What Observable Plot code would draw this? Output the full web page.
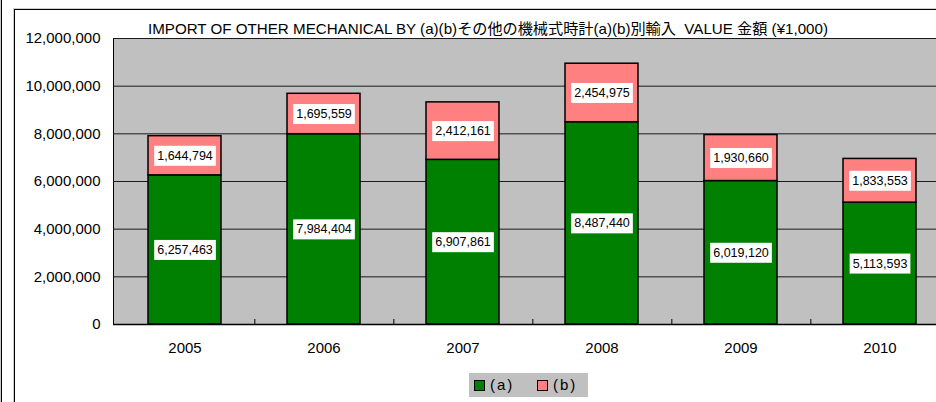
<!DOCTYPE html>
<html><head><meta charset="utf-8">
<script src="https://cdn.jsdelivr.net/npm/d3@7"></script>
<script src="https://cdn.jsdelivr.net/npm/@observablehq/plot@0.6"></script>
<style>
html,body{margin:0;padding:0;background:#fff;overflow:hidden;width:936px;height:402px;}
#wrap{position:relative;width:936px;height:402px;overflow:hidden;font-family:"Liberation Sans","Noto Sans CJK JP",sans-serif;color:#000;}
#edge{position:absolute;left:0;top:0;width:1px;height:402px;background:#c8c8c8;border-right:1px solid #000;}
#border{position:absolute;left:14px;top:9px;width:1000px;height:500px;border-left:1px solid #000;border-top:1px solid #000;box-shadow:-1px -1px 0 #d0d0d0;}
#chart{position:absolute;left:0;top:0;width:970px;height:402px;}
#chart svg{max-width:none !important;width:970px !important;height:402px !important;}
#title{position:absolute;left:148px;top:20px;font-size:15px;line-height:18px;white-space:pre;transform-origin:0 0;}
#legend{position:absolute;left:469px;top:373px;width:119px;height:24px;background:#c0c0c0;font-size:15px;}
.sw{position:absolute;top:7px;width:9px;height:9px;border:1px solid #000;}
.lt{position:absolute;top:3px;line-height:17px;letter-spacing:2px;}
</style></head><body>
<div id="wrap">
  <div id="edge"></div>
  <div id="border"></div>
  <div id="title"></div>
  <div id="chart"></div>
  <div id="legend"></div>
</div>
<script>
const titleText = "IMPORT OF OTHER MECHANICAL BY (a)(b)その他の機械式時計(a)(b)別輸入  VALUE 金額 (¥1,000)";
const years = ["2005", "2006", "2007", "2008", "2009", "2010"];
const seriesNames = ["(a)", "(b)"];
const seriesColors = ["#008000", "#ff8080"];
const valuesA = [6257463, 7984404, 6907861, 8487440, 6019120, 5113593];
const valuesB = [1644794, 1695559, 2412161, 2454975, 1930660, 1833553];
const yTicks = [0, 2000000, 4000000, 6000000, 8000000, 10000000, 12000000];

const tEl = document.getElementById("title");
tEl.textContent = titleText;
const tw = tEl.getBoundingClientRect().width;
tEl.style.transform = "scaleX(" + (680 / tw) + ")";

const data = [];
years.forEach((yr, i) => {
  data.push({year: yr, series: seriesNames[0], value: valuesA[i]});
  data.push({year: yr, series: seriesNames[1], value: valuesB[i]});
});

const W = 970, H = 402, mL = 113, mT = 38, mB = 78, mR = 19;
const step = (W - mL - mR) / years.length;
const tickLenData = 5 * 12000000 / (H - mT - mB);
const fmt = d3.format(",");

const plot = Plot.plot({
  width: W, height: H,
  marginLeft: mL, marginTop: mT, marginBottom: mB, marginRight: mR,
  style: {fontFamily: "Liberation Sans, Noto Sans CJK JP, sans-serif", fontSize: "15px", background: "transparent", color: "#000", maxWidth: "none"},
  x: {domain: years, paddingInner: 0.474, paddingOuter: 0.237, label: null},
  y: {domain: [0, 12000000], label: null},
  color: {domain: seriesNames, range: seriesColors},
  marks: [
    Plot.frame({fill: "#c0c0c0", stroke: "#000", strokeWidth: 1}),
    Plot.ruleY(yTicks, {stroke: "#1a1a1a", strokeWidth: 1}),
    Plot.ruleX(years, {x: d => d, dx: step / 2, y1: 0, y2: tickLenData, stroke: "#000", strokeWidth: 1}),
    Plot.barY(data, {x: "year", y: "value", fill: "series", stroke: "#000", strokeWidth: 1.5}),
    Plot.text(data, Plot.stackY({x: "year", y: "value", z: "series", text: d => fmt(d.value), fontSize: 12.5, fill: "#000", className: "vlabel"})),
    Plot.axisY({ticks: yTicks, tickFormat: fmt, tickSize: 0, tickPadding: 13, fontSize: 15}),
    Plot.axisX({tickSize: 0, tickPadding: 18, fontSize: 15}),
    Plot.ruleY([0], {stroke: "#000", strokeWidth: 1.5})
  ]
});
document.getElementById("chart").appendChild(plot);

// white boxes behind the value labels
plot.querySelectorAll("g.vlabel text").forEach(t => {
  const b = t.getBBox();
  const r = document.createElementNS("http://www.w3.org/2000/svg", "rect");
  r.setAttribute("x", b.x - 3);
  r.setAttribute("y", b.y - 3);
  r.setAttribute("width", b.width + 6);
  r.setAttribute("height", b.height + 6);
  r.setAttribute("fill", "#fff");
  if (t.getAttribute("transform")) r.setAttribute("transform", t.getAttribute("transform"));
  t.parentNode.insertBefore(r, t);
});

// legend
const lg = document.getElementById("legend");
const pos = [[5, 21], [68, 84]];
seriesNames.forEach((s, i) => {
  const sw = document.createElement("div");
  sw.className = "sw"; sw.style.left = pos[i][0] + "px"; sw.style.background = seriesColors[i];
  const lt = document.createElement("div");
  lt.className = "lt"; lt.style.left = pos[i][1] + "px"; lt.textContent = s;
  lg.appendChild(sw); lg.appendChild(lt);
});
</script>
</body></html>
